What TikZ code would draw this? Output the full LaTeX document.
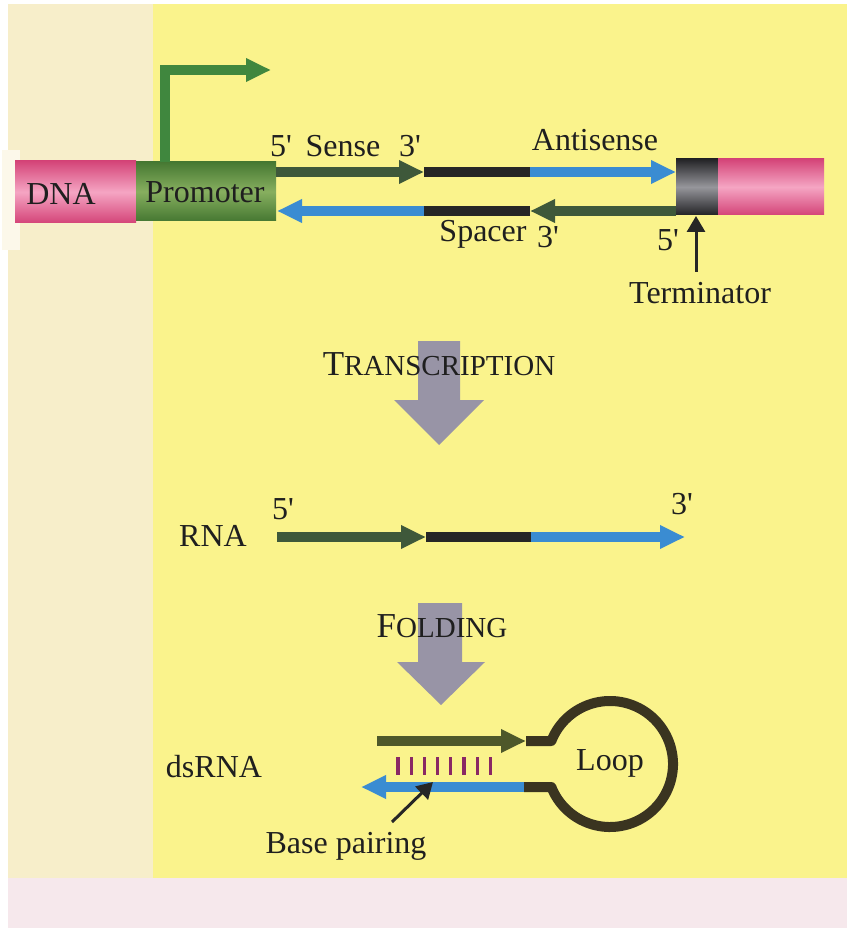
\documentclass[tikz,border=0pt]{standalone}
\usepackage{fontspec}
\setmainfont{Liberation Serif}
\usetikzlibrary{arrows.meta}
\definecolor{pagey}{RGB}{250,243,140}
\definecolor{creamy}{RGB}{247,238,202}
\definecolor{pinkbot}{RGB}{246,232,236}
\definecolor{sensec}{RGB}{62,88,58}
\definecolor{bluec}{RGB}{58,140,210}
\definecolor{spacerc}{RGB}{38,38,38}
\definecolor{promc}{RGB}{64,135,62}
\definecolor{pinkd}{RGB}{212,68,120}
\definecolor{pinkl}{RGB}{245,165,195}
\definecolor{greend}{RGB}{70,120,50}
\definecolor{greenl}{RGB}{135,175,95}
\definecolor{termd}{RGB}{35,35,38}
\definecolor{terml}{RGB}{150,150,155}
\definecolor{grayarr}{RGB}{152,148,166}
\definecolor{loopc}{RGB}{58,52,32}
\definecolor{olivec}{RGB}{78,88,42}
\definecolor{tickc}{RGB}{138,40,100}
\newcommand{\pr}{\textquotesingle}
\begin{document}
\begin{tikzpicture}[x=0.5pt,y=-0.5pt,
  lab/.style={font=\fontsize{16}{19}\selectfont, inner sep=0pt, anchor=base, text=black!88},
  strand/.style={line width=5pt},
  headed/.style={-{Triangle[width=11pt,length=12.5pt]}},
  thinarrow/.style={line width=1.5pt,-{Triangle[width=9pt,length=8pt]}},
  bigarrow/.style={fill=grayarr, draw=none},
  tick/.style={tickc, line width=1.6pt}
]
\useasboundingbox (0,0) rectangle (847,935);
% background page
\fill[white] (0,0) rectangle (847,935);
\fill[creamy] (8,4) rectangle (153,878);
\fill[pagey] (153,4) rectangle (847,878);
\fill[pinkbot] (8,878) rectangle (847,928);
\fill[white!60!creamy] (2,150) rectangle (20,250);

% ---------------- DNA construct ----------------
\shade[top color=pinkd, bottom color=pinkd, middle color=pinkl] (15,161) rectangle (136,223);
\shade[top color=greend, bottom color=greend, middle color=greenl] (136,162) rectangle (276,221);
\node[lab] (dna) at (61,205) {DNA};
\node[lab] (prom) at (205,203) {Promoter};

% transcription start (bent arrow)
\coordinate (b0) at (165,162);
\coordinate (b1) at (165,70);
\coordinate (b2) at (271,70);
\draw[promc, line width=5pt, line join=miter, headed] (b0) -- (b1) -- (b2);

% top strand
\coordinate (t1) at (276,172);
\coordinate (t2) at (424,172);
\coordinate (t3) at (530,172);
\coordinate (t4) at (676,172);
\draw[strand, sensec, headed] (t1) -- (t2);
\draw[strand, spacerc] (t2) -- (t3);
\draw[strand, bluec, headed] (t3) -- (t4);

% bottom strand
\coordinate (u1) at (676,211);
\coordinate (u2) at (530,211);
\coordinate (u3) at (424,211);
\coordinate (u4) at (277,211);
\draw[strand, sensec, headed] (u1) -- (u2);
\draw[strand, spacerc] (u2) -- (u3);
\draw[strand, bluec, headed] (u3) -- (u4);

% terminator + right DNA
\shade[top color=termd, bottom color=termd, middle color=terml] (676,159) rectangle (718,215);
\shade[top color=pinkd, bottom color=pinkd, middle color=pinkl] (718,159) rectangle (824,215);

\node[lab] (s5) at (281,157) {5\pr};
\node[lab] (sense) at (343,157) {Sense};
\node[lab] (s3) at (410,157) {3\pr};
\node[lab] (anti) at (595,151) {Antisense};
\node[lab] (spacer) at (483,242) {Spacer};
\node[lab] (sp3) at (548,248) {3\pr};
\node[lab] (t5) at (668,251) {5\pr};
\node[lab] (term) at (700,304) {Terminator};
\coordinate (termtip) at (696,216);
\coordinate (termfoot) at (696,272);
\draw[thinarrow, black!85] (termfoot) -- (termtip);

% ---------------- Transcription ----------------
\fill[bigarrow] (418,341) -- (460,341) -- (460,400) -- (484,400) -- (439,445) -- (394,400) -- (418,400) -- cycle;
\node[lab] (transc) at (439,375) {\fontsize{17.5}{20}\selectfont T\fontsize{14.5}{17}\selectfont RANSCRIPTION};

% ---------------- RNA ----------------
\node[lab] (rna) at (213,546) {RNA};
\node[lab] (r5) at (283,519) {5\pr};
\node[lab] (r3) at (682,514) {3\pr};
\coordinate (r1) at (277,537);
\coordinate (r2) at (426,537);
\coordinate (r3p) at (531,537);
\coordinate (r4) at (685,537);
\draw[strand, sensec, headed] (r1) -- (r2);
\draw[strand, spacerc] (r2) -- (r3p);
\draw[strand, bluec, headed] (r3p) -- (r4);

% ---------------- Folding ----------------
\fill[bigarrow] (418,603) -- (462,603) -- (462,662) -- (485,662) -- (441,705) -- (397,662) -- (418,662) -- cycle;
\node[lab] (fold) at (442,637) {\fontsize{17.5}{20}\selectfont F\fontsize{14.5}{17}\selectfont OLDING};

% ---------------- dsRNA ----------------
\node[lab] (dsrna) at (214,777) {dsRNA};
\coordinate (d1) at (377,741);
\coordinate (d2) at (526,741);
\coordinate (d3) at (551.35,741);
\coordinate (e1) at (524,787);
\coordinate (e2) at (361,787);
\draw[strand, loopc, line join=round] (d2) -- (d3) arc[start angle=201.41, end angle=518.59, radius=63] -- (e1);
\draw[strand, olivec, headed] (d1) -- (d2);
\draw[strand, bluec, headed] (e1) -- (e2);
\foreach \i in {0,...,7} \draw[tick] (398+\i*13.2,757) -- (398+\i*13.2,775);
\node[lab] (loop) at (610,770) {Loop};
\node[lab] (bp) at (346,853) {Base pairing};
\coordinate (bpfoot) at (392,822);
\coordinate (bptip) at (433,782);
\draw[thinarrow, black!85] (bpfoot) -- (bptip);
\end{tikzpicture}
\end{document}
